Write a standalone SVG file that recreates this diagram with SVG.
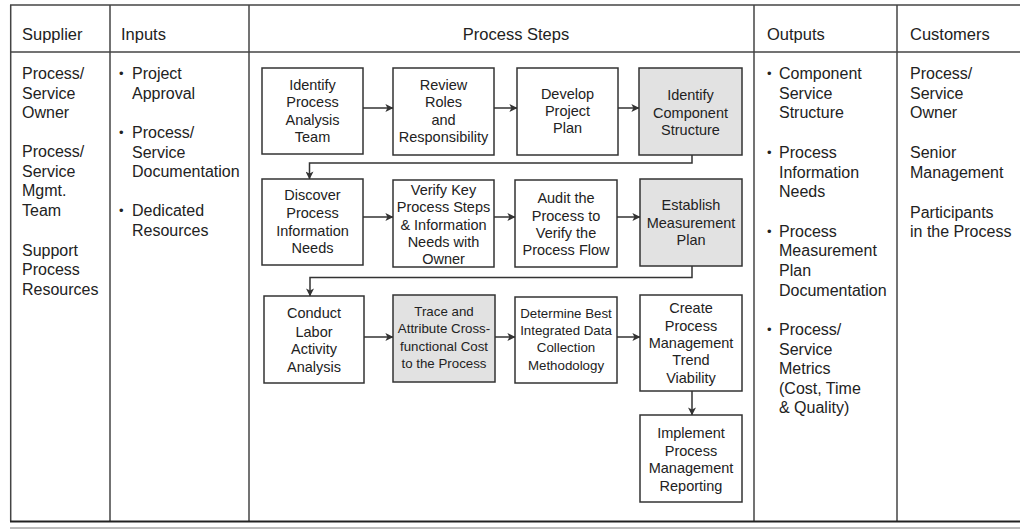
<svg xmlns="http://www.w3.org/2000/svg" width="1020" height="531" viewBox="0 0 1020 531">
<style>
  text { font-family: "Liberation Sans", Arial, sans-serif; fill: #222; }
  .hd { font-size: 16.5px; }
  .col { font-size: 16px; }
  .bul { font-size: 13px; }
  .bx { font-size: 14.5px; text-anchor: middle; }
  .bxs { font-size: 13.3px; text-anchor: middle; }
  .box { fill: #fff; stroke: #333; stroke-width: 1.5; }
  .gray { fill: #e2e2e2; stroke: #333; stroke-width: 1.5; }
  .tbl { stroke: #444; stroke-width: 1.5; fill: none; }
  .con { stroke: #333; stroke-width: 1.5; fill: none; }
</style>
<defs>
  <marker id="ah" viewBox="0 0 10 10" refX="9.5" refY="5" markerWidth="8" markerHeight="8" markerUnits="userSpaceOnUse" orient="auto">
    <path d="M0,0 L10,5 L0,10 L2.5,5 Z" fill="#333"/>
  </marker>
</defs>
<rect width="1020" height="531" fill="#fff"/>

<g id="table">
  <line class="tbl" x1="10" y1="5" x2="1020" y2="5"/>
  <line class="tbl" x1="10" y1="52" x2="1020" y2="52"/>
  <line class="tbl" x1="10.7" y1="5" x2="10.7" y2="521"/>
  <line class="tbl" x1="110" y1="5" x2="110" y2="521"/>
  <line class="tbl" x1="249" y1="5" x2="249" y2="521"/>
  <line class="tbl" x1="754" y1="5" x2="754" y2="521"/>
  <line class="tbl" x1="897" y1="5" x2="897" y2="521"/>
  <line x1="10" y1="521.5" x2="1020" y2="521.5" stroke="#222" stroke-width="2"/>
  <line x1="10" y1="528" x2="1020" y2="528" stroke="#777" stroke-width="1"/>
  <text class="hd" x="22" y="40">Supplier</text>
  <text class="hd" x="121" y="40">Inputs</text>
  <text class="hd" x="516" y="40" text-anchor="middle">Process Steps</text>
  <text class="hd" x="767" y="40">Outputs</text>
  <text class="hd" x="910" y="40">Customers</text>
</g>

<g id="supplier">
  <text class="col" x="22" y="79">Process/</text>
  <text class="col" x="22" y="99">Service</text>
  <text class="col" x="22" y="118">Owner</text>
  <text class="col" x="22" y="157">Process/</text>
  <text class="col" x="22" y="177">Service</text>
  <text class="col" x="22" y="196">Mgmt.</text>
  <text class="col" x="22" y="216">Team</text>
  <text class="col" x="22" y="256">Support</text>
  <text class="col" x="22" y="275">Process</text>
  <text class="col" x="22" y="295">Resources</text>
</g>

<g id="inputs">
  <text class="bul" x="119" y="78">•</text>
  <text class="col" x="132" y="79">Project</text>
  <text class="col" x="132" y="99">Approval</text>
  <text class="bul" x="119" y="137">•</text>
  <text class="col" x="132" y="138">Process/</text>
  <text class="col" x="132" y="158">Service</text>
  <text class="col" x="132" y="177">Documentation</text>
  <text class="bul" x="119" y="215">•</text>
  <text class="col" x="132" y="216">Dedicated</text>
  <text class="col" x="132" y="236">Resources</text>
</g>

<g id="outputs">
  <text class="bul" x="767" y="78">•</text>
  <text class="col" x="779" y="79">Component</text>
  <text class="col" x="779" y="99">Service</text>
  <text class="col" x="779" y="118">Structure</text>
  <text class="bul" x="767" y="157">•</text>
  <text class="col" x="779" y="158">Process</text>
  <text class="col" x="779" y="178">Information</text>
  <text class="col" x="779" y="197">Needs</text>
  <text class="bul" x="767" y="236">•</text>
  <text class="col" x="779" y="237">Process</text>
  <text class="col" x="779" y="256">Measurement</text>
  <text class="col" x="779" y="276">Plan</text>
  <text class="col" x="779" y="296">Documentation</text>
  <text class="bul" x="767" y="334">•</text>
  <text class="col" x="779" y="335">Process/</text>
  <text class="col" x="779" y="355">Service</text>
  <text class="col" x="779" y="374">Metrics</text>
  <text class="col" x="779" y="394">(Cost, Time</text>
  <text class="col" x="779" y="413">&amp; Quality)</text>
</g>

<g id="customers">
  <text class="col" x="910" y="79">Process/</text>
  <text class="col" x="910" y="99">Service</text>
  <text class="col" x="910" y="118">Owner</text>
  <text class="col" x="910" y="158">Senior</text>
  <text class="col" x="910" y="178">Management</text>
  <text class="col" x="910" y="218">Participants</text>
  <text class="col" x="910" y="237">in the Process</text>
</g>

<g id="connectors">
  <line class="con" x1="363" y1="108" x2="393" y2="108" marker-end="url(#ah)"/>
  <line class="con" x1="494" y1="108" x2="517" y2="108" marker-end="url(#ah)"/>
  <line class="con" x1="618" y1="108" x2="639" y2="108" marker-end="url(#ah)"/>
  <polyline class="con" points="692,155 692,163 309.5,163 309.5,179" marker-end="url(#ah)"/>
  <line class="con" x1="363" y1="217" x2="393" y2="217" marker-end="url(#ah)"/>
  <line class="con" x1="494" y1="217" x2="515" y2="217" marker-end="url(#ah)"/>
  <line class="con" x1="617" y1="217" x2="640" y2="217" marker-end="url(#ah)"/>
  <polyline class="con" points="692,266 692,277.5 310,277.5 310,296" marker-end="url(#ah)"/>
  <line class="con" x1="364" y1="337" x2="393" y2="337" marker-end="url(#ah)"/>
  <line class="con" x1="495" y1="337" x2="515" y2="337" marker-end="url(#ah)"/>
  <line class="con" x1="617" y1="337" x2="640" y2="337" marker-end="url(#ah)"/>
  <line class="con" x1="692" y1="391" x2="692" y2="415" marker-end="url(#ah)"/>
</g>

<g id="n1">
  <rect class="box" x="262" y="68" width="101" height="86"/>
  <text class="bx" x="312.5" y="90">Identify</text>
  <text class="bx" x="312.5" y="107">Process</text>
  <text class="bx" x="312.5" y="124.5">Analysis</text>
  <text class="bx" x="312.5" y="142">Team</text>
</g>
<g id="n2">
  <rect class="box" x="393" y="68" width="101" height="87"/>
  <text class="bx" x="443.5" y="90">Review</text>
  <text class="bx" x="443.5" y="107">Roles</text>
  <text class="bx" x="443.5" y="124.5">and</text>
  <text class="bx" x="443.5" y="142">Responsibility</text>
</g>
<g id="n3">
  <rect class="box" x="517" y="68" width="101" height="87"/>
  <text class="bx" x="567.5" y="98.5">Develop</text>
  <text class="bx" x="567.5" y="115.5">Project</text>
  <text class="bx" x="567.5" y="132.5">Plan</text>
</g>
<g id="n4">
  <rect class="gray" x="639" y="68" width="103" height="87"/>
  <text class="bx" x="690.5" y="100">Identify</text>
  <text class="bx" x="690.5" y="117.5">Component</text>
  <text class="bx" x="690.5" y="135">Structure</text>
</g>

<g id="n5">
  <rect class="box" x="262" y="179" width="101" height="86"/>
  <text class="bx" x="312.5" y="200">Discover</text>
  <text class="bx" x="312.5" y="218">Process</text>
  <text class="bx" x="312.5" y="235.5">Information</text>
  <text class="bx" x="312.5" y="253">Needs</text>
</g>
<g id="n6">
  <rect class="box" x="393" y="180" width="101" height="87"/>
  <text class="bx" x="443.5" y="195">Verify Key</text>
  <text class="bx" x="443.5" y="212">Process Steps</text>
  <text class="bx" x="443.5" y="229.5">&amp; Information</text>
  <text class="bx" x="443.5" y="246.5">Needs with</text>
  <text class="bx" x="443.5" y="263.5">Owner</text>
</g>
<g id="n7">
  <rect class="box" x="515" y="180" width="102" height="87"/>
  <text class="bx" x="566" y="203">Audit the</text>
  <text class="bx" x="566" y="220.5">Process to</text>
  <text class="bx" x="566" y="237.5">Verify the</text>
  <text class="bx" x="566" y="255">Process Flow</text>
</g>
<g id="n8">
  <rect class="gray" x="640" y="179" width="102" height="87"/>
  <text class="bx" x="691" y="210">Establish</text>
  <text class="bx" x="691" y="228">Measurement</text>
  <text class="bx" x="691" y="245">Plan</text>
</g>

<g id="n9">
  <rect class="box" x="264" y="296" width="100" height="87"/>
  <text class="bx" x="314" y="318">Conduct</text>
  <text class="bx" x="314" y="336.5">Labor</text>
  <text class="bx" x="314" y="354">Activity</text>
  <text class="bx" x="314" y="371.5">Analysis</text>
</g>
<g id="n10">
  <rect class="gray" x="393" y="295" width="102" height="87"/>
  <text class="bxs" x="444" y="315.5">Trace and</text>
  <text class="bxs" x="444" y="333">Attribute Cross-</text>
  <text class="bxs" x="444" y="350.5">functional Cost</text>
  <text class="bxs" x="444" y="367.5">to the Process</text>
</g>
<g id="n11">
  <rect class="box" x="515" y="297" width="102" height="86"/>
  <text class="bxs" x="566" y="317.5">Determine Best</text>
  <text class="bxs" x="566" y="335">Integrated Data</text>
  <text class="bxs" x="566" y="352">Collection</text>
  <text class="bxs" x="566" y="369.5">Methodology</text>
</g>
<g id="n12">
  <rect class="box" x="640" y="295" width="102" height="96"/>
  <text class="bx" x="691" y="313">Create</text>
  <text class="bx" x="691" y="330.5">Process</text>
  <text class="bx" x="691" y="348">Management</text>
  <text class="bx" x="691" y="365">Trend</text>
  <text class="bx" x="691" y="383">Viability</text>
</g>
<g id="n13">
  <rect class="box" x="640" y="415" width="102" height="87"/>
  <text class="bx" x="691" y="437.5">Implement</text>
  <text class="bx" x="691" y="455.5">Process</text>
  <text class="bx" x="691" y="473">Management</text>
  <text class="bx" x="691" y="491">Reporting</text>
</g>
</svg>
